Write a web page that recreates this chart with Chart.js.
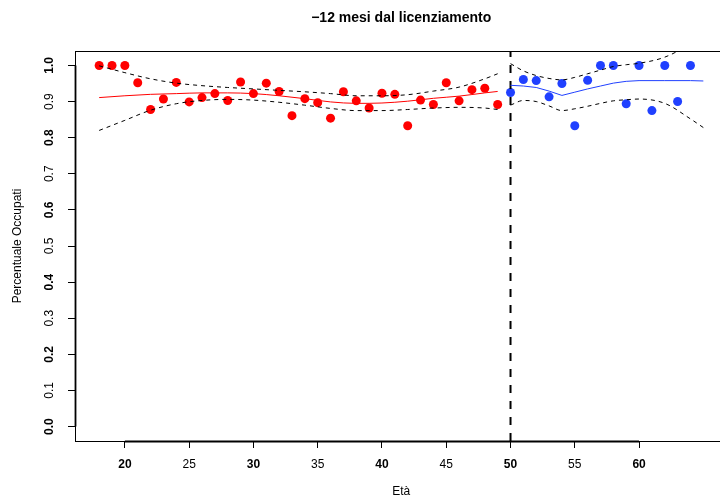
<!DOCTYPE html>
<html>
<head>
<meta charset="utf-8">
<script src="https://cdn.jsdelivr.net/npm/chart.js@4.4.1/dist/chart.umd.min.js"></script>
<style>
  html, body { margin: 0; padding: 0; background: #fff; overflow: hidden; width: 720px; height: 499px; }
  #chart { position: absolute; left: 0; top: 0; }
</style>
</head>
<body>
<canvas id="chart" width="732" height="499"></canvas>
<script>
// observed rates, under 50 (red) and 50+ (blue)
const redAges = [18, 19, 20, 21, 22, 23, 24, 25, 26, 27, 28, 29, 30, 31, 32, 33,
                 34, 35, 36, 37, 38, 39, 40, 41, 42, 43, 44, 45, 46, 47, 48, 49];
const redRates = [1.0, 1.0, 1.0, 0.952, 0.878, 0.907, 0.953, 0.899, 0.911, 0.922, 0.903, 0.954, 0.922, 0.951, 0.928, 0.861,
                  0.908, 0.897, 0.854, 0.927, 0.902, 0.882, 0.923, 0.920, 0.833, 0.904, 0.892, 0.952, 0.902, 0.933, 0.937, 0.892];
const blueAges = [50, 51, 52, 53, 54, 55, 56, 57, 58, 59, 60, 61, 62, 63, 64];
const blueRates = [0.925, 0.961, 0.958, 0.913, 0.950, 0.833, 0.959, 1.0, 1.0, 0.894, 1.0, 0.875, 1.0, 0.900, 1.0];

// fitted curves and bands
const redFitAges = [18, 20, 22, 24, 26, 28, 30, 32, 34, 36, 38, 40, 42, 44, 46, 48, 49];
const redFit   = [0.911, 0.916, 0.920, 0.922, 0.924, 0.924, 0.922, 0.916, 0.908, 0.899, 0.895, 0.896, 0.901, 0.909, 0.915, 0.924, 0.928];
const redUpper = [0.999, 0.980, 0.963, 0.951, 0.944, 0.939, 0.935, 0.931, 0.927, 0.922, 0.916, 0.916, 0.919, 0.929, 0.940, 0.963, 0.977];
const redLower = [0.820, 0.848, 0.876, 0.894, 0.903, 0.906, 0.904, 0.898, 0.890, 0.881, 0.875, 0.875, 0.878, 0.882, 0.884, 0.882, 0.878];

const blueFitAges = [50, 51, 52, 53, 54, 55, 56, 57, 58, 59, 60, 62, 64, 65];
const blueFit   = [0.945, 0.943, 0.939, 0.929, 0.917, 0.926, 0.935, 0.943, 0.951, 0.956, 0.958, 0.958, 0.958, 0.957];
const blueUpper = [1.005, 0.985, 0.972, 0.964, 0.960, 0.967, 0.977, 0.987, 0.997, 1.002, 1.006, 1.023, 1.060, 1.085];
const blueLower = [0.890, 0.903, 0.900, 0.888, 0.875, 0.880, 0.887, 0.895, 0.902, 0.905, 0.907, 0.895, 0.852, 0.828];

const cutoff = 50;
const xTicks = [20, 25, 30, 35, 40, 45, 50, 55, 60];
const yTicks = [0.0, 0.1, 0.2, 0.3, 0.4, 0.5, 0.6, 0.7, 0.8, 0.9, 1.0];
const yTickLabels = ['0.0', '0.1', '0.2', '0.3', '0.4', '0.5', '0.6', '0.7', '0.8', '0.9', '1.0'];

const chartTitle = '\u221212 mesi dal licenziamento';
const xTitle = 'Età';
const yTitle = 'Percentuale Occupati';

const FONT = '"Liberation Sans", Arial, Helvetica, sans-serif';
const RED = '#ff0000';
const BLUE = '#2040ff';

const toXY = (xs, ys) => xs.map((x, i) => ({ x: x, y: ys[i] }));

function lineSet(xs, ys, color, dashed, smooth) {
    return {
        data: toXY(xs, ys),
        showLine: true,
        borderColor: color,
        borderWidth: 1,
        borderDash: dashed ? [4, 4] : [],
        pointRadius: 0,
        tension: smooth ? 0.4 : 0,
        cubicInterpolationMode: smooth ? 'monotone' : 'default',
        clip: 0
    };
}

// box, axis lines, rotated y labels and titles, like base R
const framePlugin = {
    id: 'frame',
    afterDraw(chart) {
        const ctx = chart.ctx;
        const a = chart.chartArea;
        const xs = chart.scales.x;
        const ys = chart.scales.y;
        ctx.save();
        ctx.strokeStyle = '#000';
        ctx.lineWidth = 1;
        ctx.strokeRect(a.left + 0.5, a.top + 0.5, a.right - a.left, a.bottom - a.top);

        ctx.lineWidth = 1.8;
        ctx.beginPath();
        ctx.moveTo(xs.getPixelForValue(xTicks[0]), a.bottom + 0.5);
        ctx.lineTo(xs.getPixelForValue(xTicks[xTicks.length - 1]), a.bottom + 0.5);
        ctx.moveTo(a.left + 0.5, ys.getPixelForValue(yTicks[0]));
        ctx.lineTo(a.left + 0.5, ys.getPixelForValue(yTicks[yTicks.length - 1]));
        ctx.stroke();

        ctx.fillStyle = '#000';
        ctx.textAlign = 'center';
        ctx.textBaseline = 'middle';
        yTicks.forEach((v, i) => {
            ctx.save();
            ctx.translate(50, ys.getPixelForValue(v));
            ctx.rotate(-Math.PI / 2);
            ctx.font = (i % 2 === 0 ? 'bold ' : '') + '12px ' + FONT;
            ctx.fillText(yTickLabels[i], 0, 0);
            ctx.restore();
        });

        const cx = (a.left + a.right) / 2;
        ctx.font = 'bold 14px ' + FONT;
        ctx.fillText(chartTitle, cx, 18);
        ctx.font = '12px ' + FONT;
        ctx.fillText(xTitle, cx, 492);
        ctx.save();
        ctx.translate(18, (a.top + a.bottom) / 2);
        ctx.rotate(-Math.PI / 2);
        ctx.fillText(yTitle, 0, 0);
        ctx.restore();
        ctx.restore();
    }
};

const chart = new Chart(document.getElementById('chart'), {
    type: 'scatter',
    data: {
        datasets: [
            lineSet(redFitAges, redFit, RED, false, true),
            lineSet(redFitAges, redUpper, '#000', true, true),
            lineSet(redFitAges, redLower, '#000', true, true),
            lineSet(blueFitAges, blueFit, BLUE, false, false),
            lineSet(blueFitAges, blueUpper, '#000', true, true),
            lineSet(blueFitAges, blueLower, '#000', true, true),
            {
                data: [{ x: cutoff, y: -0.04 }, { x: cutoff, y: 1.04 }],
                showLine: true,
                borderColor: '#000',
                borderWidth: 2,
                borderDash: [8, 8],
                pointRadius: 0,
                clip: 0
            },
            {
                data: toXY(redAges, redRates),
                pointRadius: 4.5,
                pointBackgroundColor: RED,
                pointBorderWidth: 0
            },
            {
                data: toXY(blueAges, blueRates),
                pointRadius: 4.5,
                pointBackgroundColor: BLUE,
                pointBorderWidth: 0
            }
        ]
    },
    options: {
        responsive: false,
        animation: false,
        devicePixelRatio: 1,
        layout: { padding: { top: 51, left: 0, right: 2, bottom: 0 } },
        plugins: {
            legend: { display: false },
            tooltip: { enabled: false }
        },
        scales: {
            x: {
                type: 'linear',
                min: 16.12,
                max: 66.88,
                afterFit: s => { s.height = 58; },
                afterBuildTicks: s => { s.ticks = xTicks.map(v => ({ value: v })); },
                border: { display: false },
                grid: { display: true, drawOnChartArea: false, drawTicks: true, tickLength: 7, color: '#000', lineWidth: 1 },
                ticks: {
                    color: '#000',
                    padding: 9,
                    maxRotation: 0,
                    autoSkip: false,
                    font: c => ({ family: FONT, size: 12, weight: c.index % 2 === 0 ? 'bold' : 'normal' })
                }
            },
            y: {
                type: 'linear',
                min: -0.04,
                max: 1.04,
                afterFit: s => { s.width = 75; },
                afterBuildTicks: s => { s.ticks = yTicks.map(v => ({ value: v })); },
                border: { display: false },
                grid: { display: true, drawOnChartArea: false, drawTicks: true, tickLength: 7, color: '#000', lineWidth: 1 },
                ticks: { display: false }
            }
        }
    },
    plugins: [framePlugin]
});
</script>
</body>
</html>
